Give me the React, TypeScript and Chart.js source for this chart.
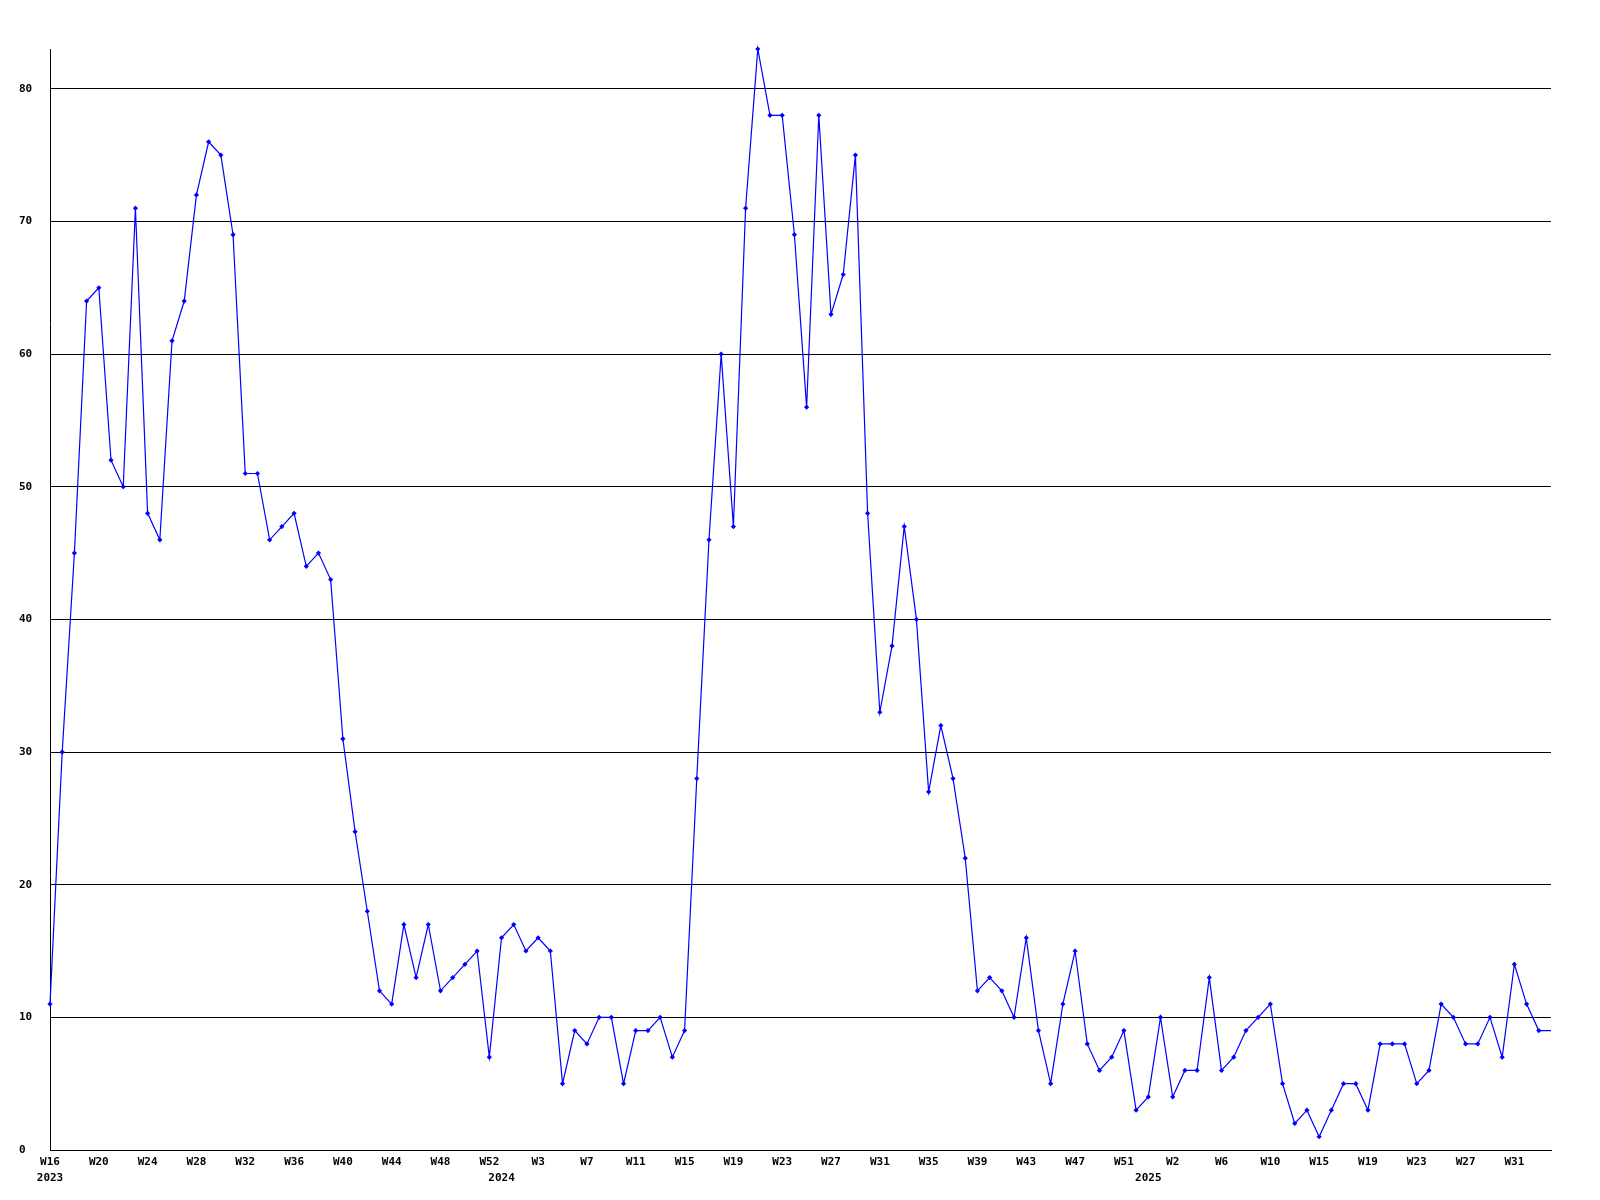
import React, { useEffect, useRef } from "react";
import { Chart, registerables } from "chart.js";

Chart.register(...registerables);

// Weekly values, 2023 W16 onwards
const values: number[] = [
  11, 30, 45, 64, 65, 52, 50, 71, 48, 46,
  61, 64, 72, 76, 75, 69, 51, 51, 46, 47,
  48, 44, 45, 43, 31, 24, 18, 12, 11, 17,
  13, 17, 12, 13, 14, 15, 7, 16, 17, 15,
  16, 15, 5, 9, 8, 10, 10, 5, 9, 9,
  10, 7, 9, 28, 46, 60, 47, 71, 83, 78,
  78, 69, 56, 78, 63, 66, 75, 48, 33, 38,
  47, 40, 27, 32, 28, 22, 12, 13, 12, 10,
  16, 9, 5, 11, 15, 8, 6, 7, 9, 3,
  4, 10, 4, 6, 6, 13, 6, 7, 9, 10,
  11, 5, 2, 3, 1, 3, 5, 5, 3, 8,
  8, 8, 5, 6, 11, 10, 8, 8, 10, 7,
  14, 11, 9, 9,
];

// Tick labels shown every 4th week
const weekTicks: string[] = [
  "W16", "W20", "W24", "W28", "W32", "W36", "W40", "W44", "W48", "W52",
  "W3", "W7", "W11", "W15", "W19", "W23", "W27", "W31", "W35", "W39",
  "W43", "W47", "W51", "W2", "W6", "W10", "W15", "W19", "W23", "W27", "W31",
];
const tickEvery = 4;

// Year labels and the week index where each year starts
const yearLabels: string[] = ["2023", "2024", "2025"];
const yearIndex: number[] = [0, 37, 90];

const FONT = "'DejaVu Sans Mono', 'Liberation Mono', monospace";

export default function App() {
  const ref = useRef<HTMLCanvasElement | null>(null);

  useEffect(() => {
    if (!ref.current) return;
    const categories = values.map((_, i) => String(i));
    const chart = new Chart(ref.current, {
      type: "line",
      data: {
        labels: categories,
        datasets: [
          {
            data: values,
            borderColor: "#0000ff",
            backgroundColor: "#0000ff",
            borderWidth: 1.2,
            pointStyle: "rectRot",
            pointRadius: (ctx: any) => (ctx.dataIndex === values.length - 1 ? 0 : 2.6),
            pointBorderWidth: 0,
            pointBackgroundColor: "#0000ff",
            tension: 0,
            fill: false,
            clip: false as any,
          },
        ],
      },
      options: {
        responsive: false,
        animation: false,
        devicePixelRatio: 1,
        layout: { padding: { left: 11, top: 41, right: 41, bottom: 0 } },
        plugins: { legend: { display: false }, tooltip: { enabled: false } },
        scales: {
          x: {
            type: "category",
            offset: false,
            grid: { display: false, drawTicks: false },
            border: { display: true, color: "#000000", width: 1 },
            afterFit: (s: any) => {
              s.height = 42;
            },
            ticks: {
              autoSkip: false,
              maxRotation: 0,
              minRotation: 0,
              padding: 4,
              color: "#000000",
              font: { family: FONT, size: 11, weight: "bold", lineHeight: 16 / 11 },
              callback: (_v: any, idx: number) => {
                const w = idx % tickEvery === 0 ? weekTicks[idx / tickEvery] || "" : "";
                const yi = yearIndex.indexOf(idx);
                if (yi >= 0) return [w, yearLabels[yi]];
                return w;
              },
            },
          },
          y: {
            min: 0,
            max: 83,
            grid: { color: "#000000", lineWidth: 1, drawTicks: false },
            border: { display: true, color: "#000000", width: 1 },
            afterBuildTicks: (s: any) => {
              s.ticks = s.ticks.filter((t: any) => t.value % 10 === 0);
            },
            afterFit: (s: any) => {
              s.width = 31;
            },
            ticks: {
              stepSize: 10,
              crossAlign: "far",
              color: "#000000",
              font: { family: FONT, size: 11, weight: "bold" },
            },
          },
        },
      },
    });
    return () => chart.destroy();
  }, []);

  return (
    <div style={{ width: 1584, height: 1184 }}>
      <canvas ref={ref} width={1584} height={1184} style={{ display: "block" }} />
    </div>
  );
}
